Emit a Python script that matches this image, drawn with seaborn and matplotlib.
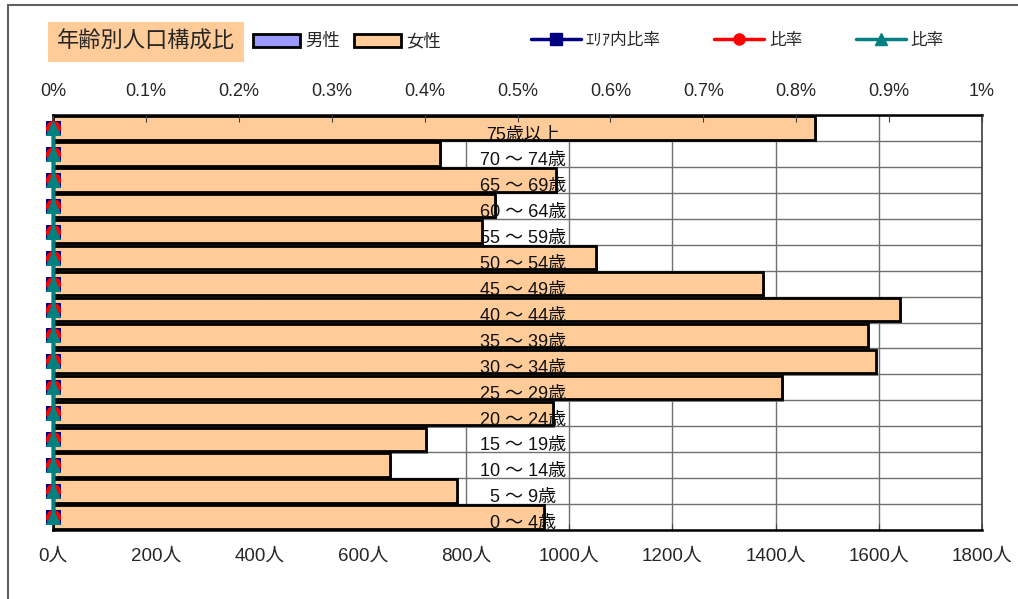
import numpy as np
import pandas as pd
import seaborn as sns
import matplotlib.pyplot as plt
import matplotlib.patheffects as pe
from matplotlib.patches import Patch, Rectangle
from matplotlib.lines import Line2D
from matplotlib.ticker import FuncFormatter, MultipleLocator

# age groups, top row first
age_groups = ["75歳以上", "70 ～ 74歳", "65 ～ 69歳", "60 ～ 64歳", "55 ～ 59歳",
              "50 ～ 54歳", "45 ～ 49歳", "40 ～ 44歳", "35 ～ 39歳", "30 ～ 34歳",
              "25 ～ 29歳", "20 ～ 24歳", "15 ～ 19歳", "10 ～ 14歳", "5 ～ 9歳", "0 ～ 4歳"]
female = [1476, 750, 975, 856, 831, 1052, 1376, 1641, 1579, 1595,
          1413, 969, 723, 653, 783, 951]
male = [0] * 16
area_ratio = [0.0] * 16
ratio_red = [0.0] * 16
ratio_teal = [0.0] * 16

count_ticks = list(range(0, 2000, 200))


def make_chart():
    sns.set_style("white")
    plt.rcParams["font.family"] = ["Liberation Sans", "Noto Sans CJK JP", "DejaVu Sans"]

    fig = plt.figure(figsize=(10.18, 5.99), dpi=100)
    ax = fig.add_axes([53 / 1018, 1 - 530 / 599, 929 / 1018, 415 / 599])

    y_pos = np.arange(len(age_groups))
    df = pd.DataFrame({"pos": y_pos, "female": female, "male": male})

    sns.barplot(data=df, x="female", y="pos", orient="h", native_scale=True,
                color="#FFCC99", saturation=1, edgecolor="black", linewidth=2,
                width=0.9, ax=ax, zorder=3)
    for bar in ax.patches:
        bar.set_path_effects([pe.SimplePatchShadow(offset=(1.5, -2), shadow_rgbFace="#707070", alpha=0.9),
                              pe.Normal()])

    ax.set_xlim(0, 1800)
    ax.set_ylim(len(age_groups) - 0.5, -0.5)
    ax.set_xticks(count_ticks)
    ax.xaxis.set_major_formatter(FuncFormatter(lambda v, p: f"{int(v)}人"))
    ax.yaxis.set_major_locator(MultipleLocator(1))
    ax.yaxis.set_minor_locator(MultipleLocator(1, offset=0.5))
    ax.set_yticklabels([])
    ax.tick_params(axis="x", direction="in", length=4, pad=13, labelsize=13.5, color="#404040")
    ax.tick_params(axis="y", which="both", left=False, length=0)
    ax.set_axisbelow(True)
    ax.grid(axis="x", which="major", color="#707070", lw=1)
    ax.grid(axis="y", which="minor", color="#707070", lw=1)
    ax.set_xlabel("")
    ax.set_ylabel("")
    for side in ["left", "bottom", "top"]:
        ax.spines[side].set_color("black")
        ax.spines[side].set_linewidth(1.8)
    ax.spines["right"].set_color("#404040")
    ax.spines["right"].set_linewidth(1.2)

    # ratio axis on top
    ax2 = ax.twiny()
    ax2.set_xlim(0, 0.01)
    ax2.set_xticks(np.arange(0, 0.0101, 0.001))
    ax2.xaxis.set_major_formatter(FuncFormatter(lambda v, p: f"{v * 100:g}%"))
    ax2.tick_params(axis="x", direction="in", length=5, pad=11, labelsize=13, color="#404040")
    for s in ax2.spines.values():
        s.set_visible(False)

    line_styles = [(area_ratio, "navy", "s"), (ratio_red, "red", "o"), (ratio_teal, "teal", "^")]
    for vals, col, mk in line_styles:
        sns.lineplot(x=vals, y=y_pos, orient="y", sort=False, estimator=None, ax=ax2,
                     color=col, lw=2.5, marker=mk, markersize=10, markeredgecolor=col,
                     clip_on=False, zorder=5)
    ax2.set_ylim(len(age_groups) - 0.5, -0.5)
    ax2.set_xlabel("")
    ax2.set_ylabel("")

    for i, label in enumerate(age_groups):
        ax2.text(0.00506, i + 0.26, label, ha="center", va="center",
                 fontsize=13, color="#111111", zorder=6, clip_on=True)

    # title and legends
    fig.text(57 / 1018, 1 - 42 / 599, "年齢別人口構成比", fontsize=16, va="center", ha="left",
             bbox=dict(facecolor="#FFCC99", edgecolor="none", pad=6.5))
    bar_handles = [Patch(facecolor="#9999FF", edgecolor="black", lw=2, label="男性"),
                   Patch(facecolor="#FFCC99", edgecolor="black", lw=2, label="女性")]
    fig.legend(handles=bar_handles, loc="center left", bbox_to_anchor=(246 / 1018, 1 - 41 / 599),
               ncol=2, frameon=False, fontsize=12.5, handlelength=2.7, handleheight=0.75,
               handletextpad=0.3, columnspacing=0.8, borderaxespad=0)
    line_handles = [Line2D([], [], color="navy", lw=2.5, marker="s", markersize=8, label="ｴﾘｱ内比率"),
                    Line2D([], [], color="red", lw=2.5, marker="o", markersize=8, label="比率"),
                    Line2D([], [], color="teal", lw=2.5, marker="^", markersize=8, label="比率")]
    fig.legend(handles=line_handles, loc="center left", bbox_to_anchor=(524 / 1018, 1 - 40 / 599),
               ncol=3, frameon=False, fontsize=12, handlelength=3.0,
               handletextpad=0.3, columnspacing=3.2, borderaxespad=0)

    # outer chart frame
    fig.patches.append(Rectangle((8 / 1018, -0.1), 1.2, 1.1 - 5 / 599, transform=fig.transFigure,
                                 fill=False, edgecolor="#606060", lw=1.5))

    fig.savefig("out.png", dpi=100, facecolor="white")


if __name__ == "__main__":
    make_chart()
